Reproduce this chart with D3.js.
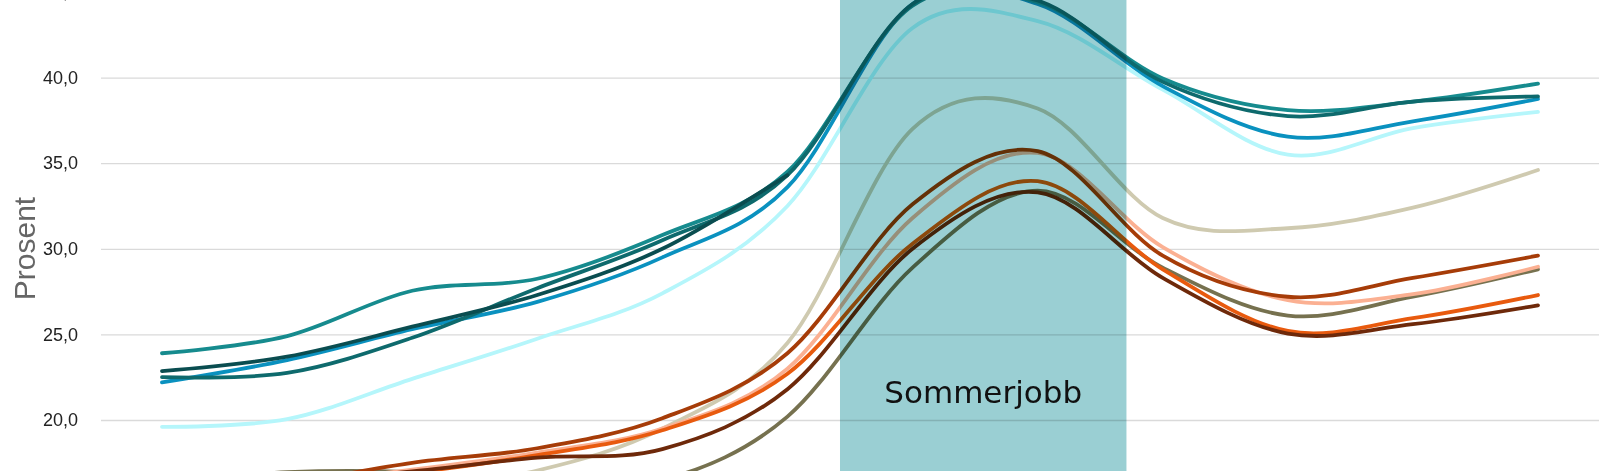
<!DOCTYPE html>
<html>
<head>
<meta charset="utf-8">
<script src="https://cdn.jsdelivr.net/npm/d3@7"></script>
<style>
  body { margin: 0; background: #fff; }
  svg { display: block; }
</style>
</head>
<body>
<div id="chart"></div>
<script>
// months on the x axis (the axis itself is cropped away below the picture)
var months = ["Jan", "Feb", "Mar", "Apr", "Mai", "Jun", "Jul", "Aug", "Sep", "Okt", "Nov", "Des"];

// y ticks
var yTicks = [20, 25, 30, 35, 40, 45];

// summer job period, in month positions (mid June -> late August)
var summerSpan = [5.42, 7.71];
var summerLabel = "Sommerjobb";

// teal group
var tealA     = [23.9, 24.9, 27.55, 28.25, 30.8, 34.5, 44.2, 44.4, 39.95, 38.1, 38.6, 39.65];
var tealDark  = [22.5, 22.75, 24.8, 27.7, 30.5, 34.3, 44.3, 44.5, 39.75, 37.75, 38.6, 38.9];
var tealNow   = [22.85, 23.7, 25.45, 27.3, 30.0, 34.3, null, null, null, null, null, null];
var blue      = [22.2, 23.5, 25.3, 26.9, 29.5, 33.6, 44.3, 44.3, 39.5, 36.55, 37.45, 38.75];
var lightCyan = [19.6, 20.05, 22.4, 24.75, 27.4, 32.5, 42.9, 43.3, 39.3, 35.5, 37.05, 38.0];

// orange / brown group
var beige      = [15.2, 15.5, 16.0, 17.05, 19.5, 24.5, 37.0, 38.2, 31.8, 31.2, 32.4, 34.6];
var olive      = [16.3, 16.95, 16.95, 16.3, 16.5, 20.2, 28.9, 33.4, 28.9, 26.1, 27.2, 28.8];
var salmon     = [15.9, 16.3, 17.1, 18.1, 19.5, 23.0, 31.8, 35.6, 30.1, 27.0, 27.35, 28.95];
var orange     = [15.5, 16.0, 16.9, 17.95, 19.4, 22.7, 30.3, 33.95, 28.8, 25.2, 25.95, 27.3];
var darkBrown  = [15.8, 16.3, 17.0, 17.8, 18.3, 21.8, 30.0, 33.3, 28.3, 25.05, 25.6, 26.7];
var darkOrange = [15.6, 16.3, 17.5, 18.35, 20.1, 23.9, 32.6, 35.7, 29.6, 27.2, 28.3, 29.6];

var series = [
  {name: "beige", values: beige, color: "#cfcab0"},
  {name: "olive", values: olive, color: "#76714f"},
  {name: "salmon", values: salmon, color: "#fbb092"},
  {name: "orange", values: orange, color: "#e85a0e"},
  {name: "darkBrown", values: darkBrown, color: "#6e290a"},
  {name: "darkOrange", values: darkOrange, color: "#a63c08"},
  {name: "lightCyan", values: lightCyan, color: "#b5f6fb"},
  {name: "blue", values: blue, color: "#0a91bf"},
  {name: "tealA", values: tealA, color: "#168b8e"},
  {name: "tealDark", values: tealDark, color: "#0e6a6d"},
  {name: "tealNow", values: tealNow, color: "#0a4d50"}
];

var margin = {top: -8, left: 101},
    width = 1498,
    height = 513.6;

var svg = d3.select("#chart")
  .append("svg")
    .attr("width", 1614)
    .attr("height", 471);

var g = svg.append("g")
    .attr("transform", "translate(" + margin.left + "," + margin.top + ")");

var x = d3.scaleLinear()
  .domain([0, months.length - 1])
  .range([61, 1437]);

var y = d3.scaleLinear()
  .domain([15, 45])
  .range([height, 0]);

var fmt = function(v) { return d3.format(".1f")(v).replace(".", ","); };

// gridlines + labels
var yAxis = g.append("g")
  .call(d3.axisLeft(y).tickValues(yTicks).tickSize(-width).tickFormat(fmt).tickPadding(23));
yAxis.select(".domain").remove();
yAxis.selectAll(".tick line")
  .attr("stroke", "#dadada")
  .attr("stroke-width", 1.3);
yAxis.selectAll(".tick text")
  .attr("font-family", "'Liberation Sans', Arial, sans-serif")
  .attr("font-size", "18px")
  .attr("fill", "#222");

svg.append("text")
  .attr("transform", "translate(35,248.5) rotate(-90)")
  .attr("text-anchor", "middle")
  .attr("font-family", "'Liberation Sans', Arial, sans-serif")
  .attr("font-size", "30px")
  .attr("fill", "#666")
  .text("Prosent");

var line = d3.line()
  .defined(function(d) { return d != null; })
  .x(function(d, i) { return x(i); })
  .y(function(d) { return y(d); })
  .curve(d3.curveCardinal.tension(0));

g.selectAll(".series")
  .data(series)
  .enter()
  .append("path")
    .attr("class", "series")
    .attr("fill", "none")
    .attr("stroke", function(d) { return d.color; })
    .attr("stroke-width", 3.8)
    .attr("stroke-linecap", "round")
    .attr("stroke-linejoin", "round")
    .attr("d", function(d) { return line(d.values); });

// summer band, multiplied over the lines
g.append("rect")
  .attr("x", x(summerSpan[0]))
  .attr("width", x(summerSpan[1]) - x(summerSpan[0]))
  .attr("y", 0)
  .attr("height", height)
  .attr("fill", "#9acfd3")
  .style("mix-blend-mode", "multiply");

g.append("text")
  .attr("x", (x(summerSpan[0]) + x(summerSpan[1])) / 2)
  .attr("y", y(21))
  .attr("text-anchor", "middle")
  .attr("font-family", "'DejaVu Sans', Verdana, sans-serif")
  .attr("font-size", "31px")
  .attr("fill", "#111")
  .text(summerLabel);
</script>
</body>
</html>
